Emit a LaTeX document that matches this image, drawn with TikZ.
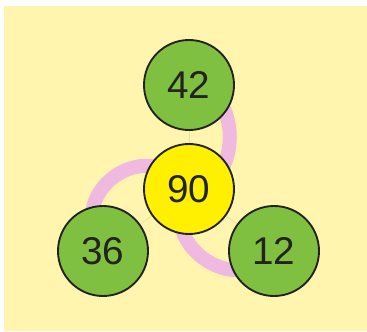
\documentclass[tikz,border=0pt]{standalone}
\usepackage{fontspec}
\setmainfont{Liberation Sans}
\usetikzlibrary{positioning, backgrounds}
\definecolor{bgyellow}{HTML}{FFF5AE}
\definecolor{leafgreen}{HTML}{80C040}
\definecolor{hubyellow}{HTML}{FFF000}
\definecolor{bondpink}{HTML}{F0B9DF}
\definecolor{guidetan}{HTML}{EEDFA8}
\definecolor{inkdark}{HTML}{222222}

\begin{document}
\begin{tikzpicture}[
  x=0.03cm, y=0.03cm,
  num/.style={circle, draw=inkdark, line width=1.6pt, minimum size=2.7cm,
    inner sep=0pt, text=inkdark, font=\fontsize{33}{36}\selectfont},
  bond/.style={bondpink, line width=0.42cm},
  guide/.style={guidetan, line width=0.6pt}
]
  \useasboundingbox (0,0) rectangle (367,331);

  % Numbers
  \node[num, fill=hubyellow] (n90) at (189,142) {90};
  \node[num, fill=leafgreen] (n42) at (189,246) {42};
  \node[num, fill=leafgreen] (n36) at (103,80) {36};
  \node[num, fill=leafgreen] (n12) at (274,80) {12};

  \begin{pgfonlayer}{background}
    \fill[bgyellow] (4,0) rectangle (367,325);
    % Guides
    \draw[guide] (n42.center) -- (n90.center);
    \draw[guide] (n90.center) -- (n36.center);
    \draw[guide] (n90.center) -- (n12.center);
    % Bonds
    \draw[bond] (n42.center) to[out=0, in=0, looseness=1.34] (n90.center);
    \draw[bond] (n90.center) to[out=126, in=126, looseness=1.73] (n36.center);
    \draw[bond] (n90.center) to[out=234, in=234, looseness=1.54] (n12.center);
  \end{pgfonlayer}
\end{tikzpicture}
\end{document}
